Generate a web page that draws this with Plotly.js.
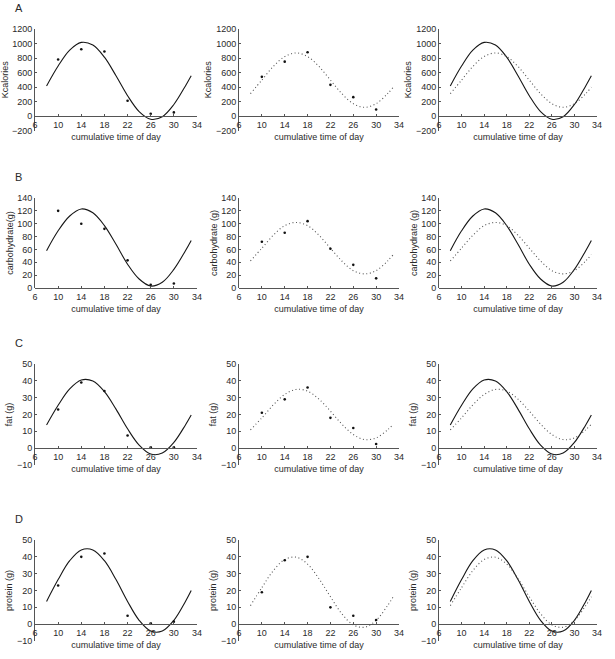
<!DOCTYPE html>
<html>
<head>
<meta charset="utf-8">
<script src="https://cdn.plot.ly/plotly-3.0.1.min.js"></script>
<style>html,body{margin:0;padding:0;background:#fff;}#chart{width:615px;height:659px;}</style>
</head>
<body>
<div id="chart"></div>
<script>
// ---- data ----
const obsHours = [10, 14, 18, 22, 26, 30];
const fitHours = [8, 10, 12, 14, 16, 18, 20, 22, 24, 26, 28, 30, 32, 33];
const xTickVals = [6, 10, 14, 18, 22, 26, 30, 34];

const kcalObsA = [780, 920, 890, 210, 30, 50];
const kcalObsB = [540, 750, 880, 430, 260, 90];
const kcalFitA = [415, 690, 909, 1015, 979, 811, 555, 280, 61, -45, -9, 159, 415, 555];
const kcalFitB = [308, 495, 683, 820, 870, 820, 683, 495, 308, 170, 120, 170, 308, 398];

const carbObsA = [120, 100, 92, 43, 5, 7];
const carbObsB = [72, 86, 104, 61, 36, 15];
const carbFitA = [58, 89, 112, 123, 117, 97, 68, 37, 14, 3, 9, 29, 58, 74];
const carbFitB = [42, 62, 82, 97, 102, 97, 82, 62, 42, 27, 22, 27, 42, 52];

const fatObsA = [23, 39, 34, 7.5, 0.5, 0.5];
const fatObsB = [21, 29, 36, 18, 12, 2.5];
const fatFitA = [13.8, 25.5, 35.2, 40.5, 39.9, 33.6, 23.2, 11.5, 1.8, -3.5, -2.9, 3.4, 13.8, 19.7];
const fatFitB = [10.9, 18.0, 25.7, 31.9, 34.9, 33.9, 29.1, 22.0, 14.3, 8.1, 5.1, 6.1, 10.9, 14.3];

const protObsA = [23, 40, 42, 5, 0.5, 1.5];
const protObsB = [19, 38, 40, 10, 5, 2.5];
const protFitA = [13.5, 26.5, 37.7, 44.1, 44.1, 37.7, 26.5, 13.5, 2.3, -4.1, -4.1, 2.3, 13.5, 20.0];
const protFitB = [11.0, 21.7, 31.8, 38.4, 39.8, 35.7, 27.0, 16.3, 6.2, -0.4, -1.8, 2.3, 11.0, 16.3];

const rowLetters = ['A', 'B', 'C', 'D'];
const yTitlesCol1 = ['Kcalories', 'carbohydrate(g)', 'fat (g)', 'protein (g)'];
const yTitlesOther = ['Kcalories', 'carbohydrate (g)', 'fat (g)', 'protein (g)'];
const xTitle = 'cumulative time of day';

// ---- layout geometry (pixels) ----
const W = 615, H = 659;
const colPx = [[35, 197], [239, 399], [439, 597]];
const rowPx = [[29, 130.5], [198, 288], [364, 465], [540, 641]];
const yRanges = [[-200, 1200], [0, 140], [-10, 50], [-10, 50]];
const yDticks = [200, 20, 10, 10];

const rows = [
  {obsA: kcalObsA, obsB: kcalObsB, fitA: kcalFitA, fitB: kcalFitB},
  {obsA: carbObsA, obsB: carbObsB, fitA: carbFitA, fitB: carbFitB},
  {obsA: fatObsA, obsB: fatObsB, fitA: fatFitA, fitB: fatFitB},
  {obsA: protObsA, obsB: protObsB, fitA: protFitA, fitB: protFitB}
];

const FONT = 'Liberation Sans, Arial, Helvetica, sans-serif';
const TXT = '#2a2a2a';
const AX = '#555';

const traces = [];
const layout = {
  width: W, height: H,
  margin: {l: 0, r: 0, t: 0, b: 0},
  paper_bgcolor: '#fff', plot_bgcolor: 'rgba(0,0,0,0)',
  showlegend: false,
  font: {family: FONT, size: 9, color: TXT},
  annotations: []
};

function solidLine(xa, ya, y) {
  return {x: fitHours, y: y, xaxis: xa, yaxis: ya, type: 'scatter', mode: 'lines',
    line: {color: '#161616', width: 1.1, shape: 'spline', smoothing: 1}, hoverinfo: 'skip'};
}
function dotLine(xa, ya, y) {
  return {x: fitHours, y: y, xaxis: xa, yaxis: ya, type: 'scatter', mode: 'lines',
    line: {color: '#555', width: 1.1, dash: '1px,2.6px', shape: 'spline', smoothing: 1}, hoverinfo: 'skip'};
}
function points(xa, ya, y) {
  return {x: obsHours, y: y, xaxis: xa, yaxis: ya, type: 'scatter', mode: 'markers',
    marker: {color: '#111', size: 2.6}, hoverinfo: 'skip'};
}

for (let r = 0; r < 4; r++) {
  const d = rows[r];
  const [py0, py1] = rowPx[r];
  const yd = [1 - py1 / H, 1 - py0 / H];
  const [ymin, ymax] = yRanges[r];
  const xPos = yd[0] + (yd[1] - yd[0]) * (0 - ymin) / (ymax - ymin);
  for (let c = 0; c < 3; c++) {
    const n = r * 3 + c + 1;
    const xa = 'x' + n, ya = 'y' + n;
    const xd = [colPx[c][0] / W, colPx[c][1] / W];
    if (c === 0) { traces.push(solidLine(xa, ya, d.fitA)); traces.push(points(xa, ya, d.obsA)); }
    if (c === 1) { traces.push(dotLine(xa, ya, d.fitB)); traces.push(points(xa, ya, d.obsB)); }
    if (c === 2) { traces.push(solidLine(xa, ya, d.fitA)); traces.push(dotLine(xa, ya, d.fitB)); }
    layout['xaxis' + (n === 1 ? '' : n)] = {
      domain: xd, range: [6, 34], tickmode: 'array', tickvals: xTickVals,
      anchor: 'free', position: xPos,
      showline: true, linecolor: AX, linewidth: 1, ticks: 'inside', ticklen: 2, tickcolor: AX,
      showgrid: false, zeroline: false, fixedrange: true,
      tickfont: {family: FONT, size: 9, color: TXT},
      title: {text: xTitle, font: {family: FONT, size: 9, color: TXT}, standoff: 4}
    };
    layout['yaxis' + (n === 1 ? '' : n)] = {
      domain: yd, range: [ymin, ymax], dtick: yDticks[r], tick0: 0,
      anchor: xa,
      showline: true, linecolor: AX, linewidth: 1, ticks: 'inside', ticklen: 2, tickcolor: AX,
      showgrid: false, zeroline: false, fixedrange: true,
      tickfont: {family: FONT, size: 9, color: TXT},
      title: {text: c === 0 ? yTitlesCol1[r] : yTitlesOther[r], font: {family: FONT, size: 9, color: TXT}, standoff: 2}
    };
  }
  layout.annotations.push({
    text: rowLetters[r], xref: 'paper', yref: 'paper', x: 13 / W, y: 1 - (rowPx[r][0] - 21) / H,
    xanchor: 'left', yanchor: 'middle', showarrow: false,
    font: {family: FONT, size: 11, color: TXT}
  });
}

Plotly.newPlot('chart', traces, layout, {staticPlot: true, displayModeBar: false});
</script>
</body>
</html>
